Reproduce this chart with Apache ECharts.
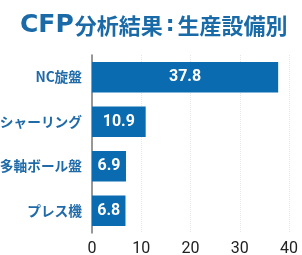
<!DOCTYPE html>
<html><head><meta charset="utf-8">
<script src="https://cdn.jsdelivr.net/npm/echarts@6/dist/echarts.min.js"></script>
<style>html,body{margin:0;padding:0;background:#fff}#c{width:302px;height:255px}</style>
</head><body><div id="c"></div>
<script>
var titleLatin = 'CFP';
var titleMain = '分析結果';
var titleColon = ':';
var titleSub = '生産設備別';
var categories = ['NC旋盤', 'シャーリング', '多軸ボール盤', 'プレス機'];
var values = [37.8, 10.9, 6.9, 6.8];
var xTicks = [0, 10, 20, 30, 40];

var titleColor = '#1a6aa8';
var chart = echarts.init(document.getElementById('c'), null, {renderer: 'canvas'});
chart.setOption({
  animation: false,
  title: {
    text: '{a|' + titleLatin + '}{b|' + titleMain + '}{c|' + titleColon + '}{b|' + titleSub + '}',
    left: 15, top: 8,
    textStyle: {
      rich: {
        a: {fontFamily: 'DejaVu Sans', fontSize: 25, fontWeight: 'bold', color: titleColor, padding: [0, 1, 0, 0]},
        b: {fontFamily: 'Noto Sans CJK JP', fontSize: 22, fontWeight: 'bold', color: titleColor},
        c: {fontFamily: 'DejaVu Sans', fontSize: 22, fontWeight: 'bold', color: titleColor, padding: [0, 3, 0, 3]}
      }
    }
  },
  grid: {left: 92, right: 13, top: 55, bottom: 22, containLabel: false, outerBoundsMode: 'none'},
  xAxis: {
    type: 'value', min: xTicks[0], max: xTicks[xTicks.length - 1], interval: 10,
    axisLine: {show: false}, axisTick: {show: false},
    splitLine: {show: true, lineStyle: {color: '#e6e6e6', type: 'dotted', width: 1}},
    axisLabel: {color: '#222', fontSize: 16, fontFamily: 'Roboto', margin: 8}
  },
  yAxis: {
    type: 'category', data: categories, inverse: true,
    axisLine: {show: true, lineStyle: {color: '#777', width: 1.5}},
    axisTick: {show: false},
    axisLabel: {color: '#1f6aa8', fontSize: 13.7, fontWeight: 'bold', fontFamily: 'Noto Sans CJK JP', margin: 10}
  },
  series: [{
    type: 'bar', data: values, barCategoryGap: '32%',
    itemStyle: {color: '#0a6bb0'},
    label: {show: true, position: 'inside', color: '#fff', fontSize: 16, fontWeight: 'bold', fontFamily: 'Roboto',
      formatter: function(p){ return p.value.toFixed(1); }}
  }]
});
</script></body></html>
